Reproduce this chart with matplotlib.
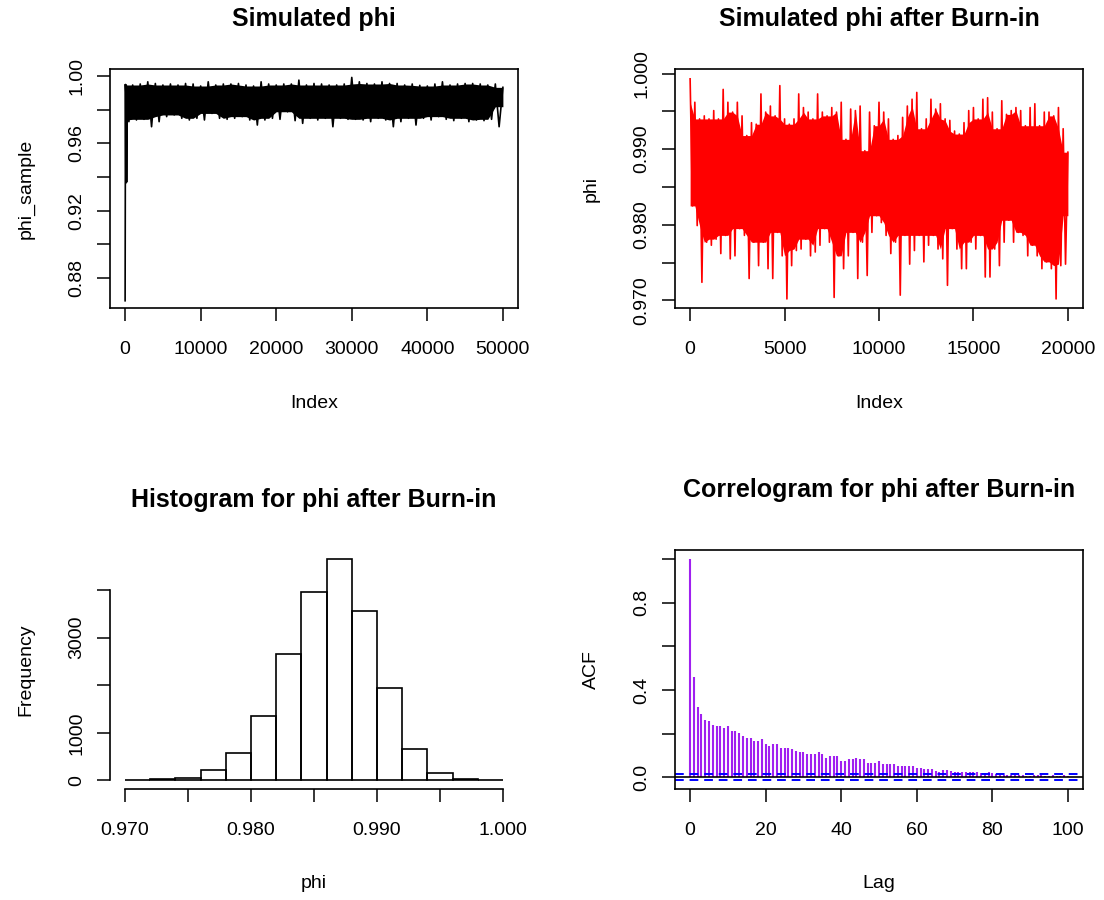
import numpy as np
import matplotlib.pyplot as plt
from matplotlib.ticker import FixedLocator, FixedFormatter

plt.rcParams['font.family'] = ['Liberation Sans', 'DejaVu Sans']

# ---------------------------
# Full chain (50000 draws): highs / lows every 1000 iterations
# ---------------------------
chain_idx = np.arange(0, 50001, 1000)
chain_hi = [0.9947, 0.9947, 0.9953, 0.9966, 0.9956, 0.9947, 0.9953, 0.9947, 0.9956, 0.9953,
            0.9941, 0.9966, 0.9947, 0.9953, 0.9953, 0.9956, 0.9947, 0.9941, 0.9966, 0.9953,
            0.9947, 0.9953, 0.9953, 0.9976, 0.9947, 0.9956, 0.9953, 0.9947, 0.9947, 0.9953,
            0.9992, 0.9966, 0.9956, 0.9953, 0.9966, 0.9956, 0.9956, 0.9947, 0.9953, 0.9945,
            0.9941, 0.9953, 0.9966, 0.9947, 0.9953, 0.9956, 0.9956, 0.9953, 0.9947, 0.9953,
            0.9933]
chain_lo = [0.9729, 0.9739, 0.9743, 0.9699, 0.9729, 0.9759, 0.9769, 0.9749, 0.9739, 0.9749,
            0.9739, 0.9778, 0.9749, 0.9743, 0.9749, 0.9759, 0.9739, 0.9709, 0.9739, 0.9749,
            0.9743, 0.9788, 0.9735, 0.9719, 0.9749, 0.9739, 0.9749, 0.9699, 0.9749, 0.9743,
            0.9743, 0.9739, 0.9729, 0.9749, 0.9739, 0.9699, 0.9729, 0.9749, 0.9709, 0.9749,
            0.9739, 0.9759, 0.9743, 0.9735, 0.9749, 0.9729, 0.9739, 0.9735, 0.9743, 0.9699,
            0.9818]
# first few draws, before the chain settles
warmup_idx = [0, 50, 100, 150, 200, 250]
warmup_phi = [0.8665, 0.9950, 0.9365, 0.9945, 0.9370, 0.9740]

# ---------------------------
# After burn-in (20000 draws): highs / lows every 250 iterations
# ---------------------------
burn_idx = np.arange(0, 20001, 250)
burn_hi = [0.9993, 0.9962, 0.9940, 0.9944, 0.9940, 0.9951, 0.9940, 0.9979, 0.9962, 0.9949,
           0.9962, 0.9944, 0.9918, 0.9935, 0.9933, 0.9973, 0.9949, 0.9957, 0.9944, 0.9984,
           0.9940, 0.9933, 0.9940, 0.9973, 0.9955, 0.9949, 0.9940,
           0.9973, 0.9949, 0.9944, 0.9955, 0.9949, 0.9962, 0.9913, 0.9953, 0.9951, 0.9957,
           0.9898, 0.9949, 0.9931, 0.9962, 0.9949, 0.9940, 0.9913, 0.9918, 0.9942, 0.9957,
           0.9966, 0.9975, 0.9927, 0.9940, 0.9966, 0.9953, 0.9960,
           0.9940, 0.9938, 0.9924, 0.9920, 0.9935, 0.9951, 0.9955, 0.9940, 0.9966, 0.9968,
           0.9949, 0.9927, 0.9964, 0.9946, 0.9951, 0.9955, 0.9951, 0.9931, 0.9955, 0.9960,
           0.9931, 0.9949, 0.9949, 0.9944, 0.9955, 0.9927, 0.9896]
burn_lo = [0.9825, 0.9799, 0.9724, 0.9777, 0.9773, 0.9781, 0.9762, 0.9786, 0.9755, 0.9759,
           0.9795, 0.9786, 0.9729, 0.9777, 0.9746, 0.9777, 0.9742, 0.9729, 0.9790, 0.9759,
           0.9702, 0.9746, 0.9766, 0.9768, 0.9781, 0.9759, 0.9764,
           0.9773, 0.9795, 0.9777, 0.9704, 0.9759, 0.9742, 0.9759, 0.9790, 0.9729, 0.9777,
           0.9733, 0.9790, 0.9812, 0.9803, 0.9786, 0.9762, 0.9777, 0.9707, 0.9786, 0.9748,
           0.9766, 0.9786, 0.9751, 0.9773, 0.9786, 0.9768, 0.9755,
           0.9720, 0.9795, 0.9768, 0.9742, 0.9742, 0.9777, 0.9768, 0.9786, 0.9731, 0.9731,
           0.9768, 0.9746, 0.9777, 0.9806, 0.9777, 0.9790, 0.9786, 0.9759, 0.9773, 0.9759,
           0.9742, 0.9751, 0.9742, 0.9702, 0.9746, 0.9748, 0.9812]

# ---------------------------
# Histogram counts (bin width 0.002 from 0.970)
# ---------------------------
hist_edges = np.round(np.arange(0.970, 1.0001, 0.002), 3)
hist_counts = [3, 28, 56, 223, 572, 1360, 2657, 3961, 4651, 3550, 1946, 669, 160, 28, 3]

# ---------------------------
# Autocorrelation, lags 0..100
# ---------------------------
acf_lags = np.arange(0, 101)
acf_vals = [1.000, 0.459, 0.324, 0.288, 0.264, 0.256, 0.241, 0.233, 0.233, 0.226,
            0.233, 0.212, 0.212, 0.205, 0.188, 0.182, 0.182, 0.167, 0.167, 0.174,
            0.152, 0.144, 0.152, 0.152, 0.136, 0.136, 0.136, 0.129, 0.121, 0.114,
            0.114, 0.106, 0.106, 0.106, 0.114, 0.106, 0.091, 0.098, 0.098, 0.098,
            0.076, 0.076, 0.083, 0.083, 0.091, 0.083, 0.083, 0.068, 0.068, 0.068,
            0.076, 0.061, 0.061, 0.061, 0.061, 0.053, 0.053, 0.053, 0.053, 0.053,
            0.045, 0.045, 0.038, 0.038, 0.038, 0.030, 0.027, 0.033, 0.033, 0.030,
            0.027, 0.027, 0.027, 0.027, 0.027, 0.026, 0.023, 0.020, 0.020, 0.026,
            0.020, 0.015, 0.012, 0.010, 0.012, 0.011, 0.009, 0.010, 0.012, 0.008,
            0.007, 0.010, 0.011, 0.009, 0.006, 0.008, 0.010, 0.007, 0.006, 0.009,
            0.008]
acf_ci = 0.01386

TICK_FS = 14
LAB_FS = 14
TITLE_FS = 18
W, H = 1104, 900


def make_axes(left, top, right, bottom):
    return fig.add_axes([left / W, 1 - bottom / H, (right - left) / W, (bottom - top) / H])


def style_ticks(ax, xt, xl, yt, yl):
    ax.xaxis.set_major_locator(FixedLocator(xt))
    ax.xaxis.set_major_formatter(FixedFormatter(xl))
    ax.yaxis.set_major_locator(FixedLocator(yt))
    ax.yaxis.set_major_formatter(FixedFormatter(yl))
    ax.tick_params(axis='both', direction='out', length=9.5, width=1.1, labelsize=TICK_FS)
    ax.tick_params(axis='x', pad=14)
    ax.tick_params(axis='y', pad=8)
    for lbl in ax.get_yticklabels():
        lbl.set_rotation(90)
        lbl.set_va('center')
    for s in ax.spines.values():
        s.set_linewidth(1.2)


def rolling(vals, n, fn):
    arr = np.pad(np.asarray(vals), n // 2, mode='edge')
    return fn(np.lib.stride_tricks.sliding_window_view(arr, n), axis=1)


def draw_trace(ax, idx, hi, lo, color, lw):
    # solid band that neighbouring stretches all reach ...
    ax.fill_between(idx, rolling(lo, 3, np.max), rolling(hi, 3, np.min), color=color, lw=0)
    # ... and the chain swinging out to each high and low
    half = (idx[1] - idx[0]) / 2
    xs = np.column_stack([idx, idx + half]).ravel()[:-1]
    ys = np.column_stack([hi, lo]).ravel()[:-1]
    ax.plot(xs, ys, color=color, lw=lw)


fig = plt.figure(figsize=(W / 100, H / 100), dpi=100)

# ---------------------------
# Panel 1: full chain
# ---------------------------
ax1 = make_axes(110, 69, 518, 308)
draw_trace(ax1, chain_idx, chain_hi, chain_lo, 'black', 1.2)
ax1.plot(warmup_idx, warmup_phi, color='black', lw=1.2)
ax1.set_xlim(-2000, 52000)
ax1.set_ylim(0.8622, 1.0042)
style_ticks(ax1, [0, 10000, 20000, 30000, 40000, 50000],
            ['0', '10000', '20000', '30000', '40000', '50000'],
            [0.88, 0.90, 0.92, 0.94, 0.96, 0.98, 1.00],
            ['0.88', '', '0.92', '', '0.96', '', '1.00'])

# ---------------------------
# Panel 2: chain after burn-in
# ---------------------------
ax2 = make_axes(675, 69, 1083, 308)
draw_trace(ax2, burn_idx, burn_hi, burn_lo, 'red', 1.2)
ax2.set_xlim(-800, 20800)
ax2.set_ylim(0.9690, 1.0006)
style_ticks(ax2, [0, 5000, 10000, 15000, 20000],
            ['0', '5000', '10000', '15000', '20000'],
            [0.970, 0.975, 0.980, 0.985, 0.990, 0.995, 1.000],
            ['0.970', '', '0.980', '', '0.990', '', '1.000'])

# ---------------------------
# Panel 3: histogram
# ---------------------------
ax3 = make_axes(110, 550, 518, 789.3)
ax3.bar(hist_edges[:-1], hist_counts, width=0.002, align='edge',
        fill=False, edgecolor='black', lw=1.2)
ax3.set_xlim(0.9688, 1.0012)
ax3.set_ylim(-186, 4837)
style_ticks(ax3, [0.970, 0.975, 0.980, 0.985, 0.990, 0.995, 1.000],
            ['0.970', '', '0.980', '', '0.990', '', '1.000'],
            [0, 1000, 2000, 3000, 4000],
            ['0', '1000', '', '3000', ''])
ax3.spines['top'].set_visible(False)
ax3.spines['right'].set_visible(False)
ax3.spines['left'].set_bounds(0, 4000)
ax3.spines['bottom'].set_bounds(0.970, 1.000)

# ---------------------------
# Panel 4: correlogram
# ---------------------------
ax4 = make_axes(675, 550, 1083, 789.3)
ax4.vlines(acf_lags, 0, acf_vals, color='#A020F0', lw=1.5)
ax4.axhline(0, color='black', lw=1.2)
for c in (acf_ci, -acf_ci):
    ax4.axhline(c, color='blue', lw=1.4, ls=(0, (4.5, 3)))
ax4.set_xlim(-4, 104)
ax4.set_ylim(-0.0544, 1.0405)
style_ticks(ax4, [0, 20, 40, 60, 80, 100],
            ['0', '20', '40', '60', '80', '100'],
            [0.0, 0.2, 0.4, 0.6, 0.8, 1.0],
            ['0.0', '', '0.4', '', '0.8', ''])

# ---------------------------
# Titles and axis labels
# ---------------------------
def ftext(x, y, s, **kw):
    fig.text(x / W, 1 - y / H, s, ha='center', va='center', **kw)

ftext(314, 19, 'Simulated phi', fontsize=TITLE_FS, fontweight='bold')
ftext(879, 19, 'Simulated phi after Burn-in', fontsize=TITLE_FS, fontweight='bold')
ftext(314, 500, 'Histogram for phi after Burn-in', fontsize=TITLE_FS, fontweight='bold')
ftext(879, 490, 'Correlogram for phi after Burn-in', fontsize=TITLE_FS, fontweight='bold')

ftext(314, 403, 'Index', fontsize=LAB_FS)
ftext(879, 403, 'Index', fontsize=LAB_FS)
ftext(314, 884, 'phi', fontsize=LAB_FS)
ftext(879, 884, 'Lag', fontsize=LAB_FS)
ftext(26, 189, 'phi_sample', fontsize=LAB_FS, rotation=90)
ftext(591, 189, 'phi', fontsize=LAB_FS, rotation=90)
ftext(26, 670, 'Frequency', fontsize=LAB_FS, rotation=90)
ftext(591, 670, 'ACF', fontsize=LAB_FS, rotation=90)

fig.savefig('out.png', dpi=100)
